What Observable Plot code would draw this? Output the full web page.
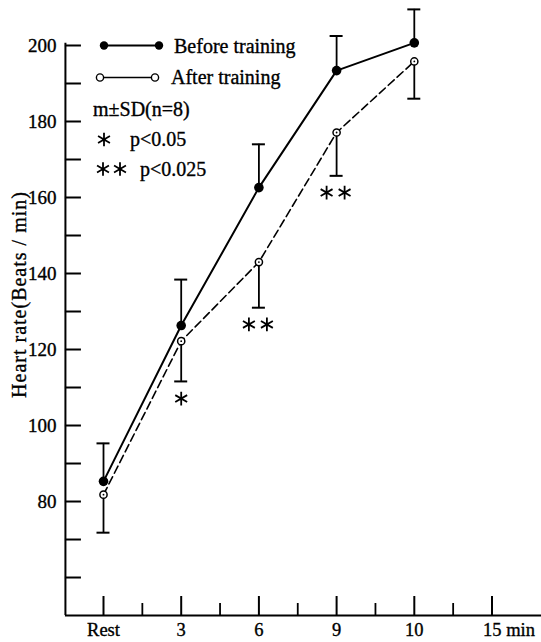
<!DOCTYPE html>
<html><head><meta charset="utf-8">
<script src="https://cdn.jsdelivr.net/npm/d3@7"></script>
<script src="https://cdn.jsdelivr.net/npm/@observablehq/plot@0.6"></script>
<style>
html,body{margin:0;padding:0;background:#fff;}
#chart svg{display:block;}
#chart svg text{stroke:#000;stroke-width:0.35px;}
</style></head><body><div id="chart"></div>
<script>
// ---- data ----
const categories = ["Rest", "3", "6", "9", "10", "15 min"];
const measuredCats = ["Rest", "3", "6", "9", "10"];
const beforeMean  = [85.3, 126.3, 162.6, 193.4, 200.7];
const beforeUpper = [95.3, 138.4, 174.0, 202.5, 209.5];
const afterMean   = [81.8, 122.2, 143.0, 177.1, 195.8];
const afterLower  = [71.8, 111.6, 131.0, 165.7, 186.0];
const starCats  = ["3", "6", "9"];
const starLevel = [107.1, 126.6, 161.3];
const starCount = [1, 2, 2];
const yTickLabels = [80, 100, 120, 140, 160, 180, 200];
const yTickMinor  = [60, 70, 90, 110, 130, 150, 170, 190];
const yTitle = "Heart rate(Beats / min)";
const legendBefore = "Before training";
const legendAfter = "After training";
const legendNote = "m±SD(n=8)";
const legendP1 = "p<0.05";
const legendP2 = "p<0.025";

// ---- tables ----
const idx = c => categories.indexOf(c);
const before = measuredCats.map((c, i) => ({i: idx(c), mean: beforeMean[i], upper: beforeUpper[i]}));
const after  = measuredCats.map((c, i) => ({i: idx(c), mean: afterMean[i], lower: afterLower[i]}));
const stars  = starCats.map((c, i) => ({i: idx(c), y: starLevel[i], n: starCount[i]}));

const W = 541, H = 642;
const xDomain = [-1.3256, 5.637];
const yDomain = [42.9, 211.84];
const pxX = (xDomain[1] - xDomain[0]) / W;   // index units per px
const pxY = (yDomain[1] - yDomain[0]) / H;   // value units per px
const axisX = -0.49, yBase = 50, yAxisTop = 200.6;
const capW = 6.5 * pxX;

const font = "Liberation Serif, Times New Roman, serif";

const plot = Plot.plot({
  width: W, height: H,
  margin: 0,
  x: {domain: xDomain, axis: null},
  y: {domain: yDomain, axis: null},
  style: {fontFamily: font, color: "#000", background: "#fff", overflow: "visible"},
  marks: [
    // axes lines
    Plot.ruleX([axisX], {y1: yBase, y2: yAxisTop, strokeWidth: 2}),
    Plot.ruleY([yBase], {x1: axisX, x2: xDomain[1], strokeWidth: 2}),
    // y ticks (pointing inward)
    Plot.ruleY(yTickLabels.concat(yTickMinor), {x1: axisX, x2: axisX + 16 * pxX, strokeWidth: 2}),
    Plot.text(yTickLabels, {x: axisX, y: d => d, dx: -9, textAnchor: "end", fontSize: 19}),
    // x ticks
    Plot.ruleX(categories.map(idx), {y1: yBase, y2: yBase + 19 * pxY, strokeWidth: 2}),
    Plot.ruleX(categories.slice(0, -1).map(c => idx(c) + 0.5), {y1: yBase, y2: yBase + 12 * pxY, strokeWidth: 1.8}),
    Plot.text(categories.slice(0, -1), {x: idx, y: yBase, dy: 15, fontSize: 18.5}),
    Plot.text(categories.slice(-1), {x: idx, y: yBase, dy: 15, dx: -9, textAnchor: "start", fontSize: 18.5}),
    // error bars
    Plot.ruleX(before, {x: "i", y1: "mean", y2: "upper", strokeWidth: 1.8}),
    Plot.ruleY(before, {y: "upper", x1: d => d.i - capW, x2: d => d.i + capW, strokeWidth: 2}),
    Plot.ruleX(after, {x: "i", y1: "mean", y2: "lower", strokeWidth: 1.8}),
    Plot.ruleY(after, {y: "lower", x1: d => d.i - capW, x2: d => d.i + capW, strokeWidth: 2}),
    // lines
    Plot.line(before, {x: "i", y: "mean", strokeWidth: 2}),
    Plot.line(after, {x: "i", y: "mean", strokeWidth: 1.6, strokeDasharray: "8,4"}),
    // points
    Plot.dot(before, {x: "i", y: "mean", r: 4.8, fill: "#000", stroke: "none"}),
    Plot.dot(after, {x: "i", y: "mean", r: 3.6, fill: "#fff", stroke: "#000", strokeWidth: 1.5}),
    Plot.dot(after, {x: "i", y: "mean", r: 0.9, fill: "#000", stroke: "none"}),
    // significance stars
    Plot.dot(stars.filter(d => d.n === 1), {x: "i", y: "y", symbol: "asterisk", r: 6.5, stroke: "#000", strokeWidth: 1.8}),
    Plot.dot(stars.filter(d => d.n === 2), {x: "i", y: "y", dx: -10, symbol: "asterisk", r: 6.5, stroke: "#000", strokeWidth: 1.8}),
    Plot.dot(stars.filter(d => d.n === 2), {x: "i", y: "y", dx: 8, symbol: "asterisk", r: 6.5, stroke: "#000", strokeWidth: 1.8}),
    // y title
    Plot.text([yTitle], {frameAnchor: "left", textAnchor: "middle", dx: 19, dy: -27, rotate: -90, fontSize: 20})
  ]
});
document.getElementById("chart").appendChild(plot);

const svg = d3.select(plot);
svg.selectAll("text").filter(function() { return this.textContent === yTitle; }).attr("letter-spacing", 1);

// ---- legend (drawn into the same svg) ----
const lg = svg.append("g").attr("font-family", font).attr("font-size", 20).attr("fill", "#000").attr("text-anchor", "start");
// before
lg.append("line").attr("x1", 104).attr("x2", 159).attr("y1", 45.5).attr("y2", 45.5).attr("stroke", "#000").attr("stroke-width", 2);
[104, 159].forEach(x => lg.append("circle").attr("cx", x).attr("cy", 45.5).attr("r", 4.2).attr("fill", "#000"));
lg.append("text").attr("x", 174).attr("y", 52.5).text(legendBefore);
// after
lg.append("line").attr("x1", 100).attr("x2", 155).attr("y1", 77.5).attr("y2", 77.5).attr("stroke", "#000").attr("stroke-width", 1.6);
[100, 155].forEach(x => lg.append("circle").attr("cx", x).attr("cy", 77.5).attr("r", 3.6).attr("fill", "#fff").attr("stroke", "#000").attr("stroke-width", 1.4));
lg.append("text").attr("x", 171).attr("y", 83.5).text(legendAfter);
// notes
lg.append("text").attr("x", 93).attr("y", 116).text(legendNote);
const ast = d3.symbol(d3.symbolAsterisk, Math.PI * 6.5 * 6.5);
[[104, 139.5], [103, 169], [120, 169]].forEach(([x, y]) =>
  lg.append("path").attr("d", ast()).attr("transform", `translate(${x},${y})`).attr("fill", "none").attr("stroke", "#000").attr("stroke-width", 1.8));
lg.append("text").attr("x", 130).attr("y", 146).text(legendP1);
lg.append("text").attr("x", 140).attr("y", 176).text(legendP2);
</script>
</body></html>
